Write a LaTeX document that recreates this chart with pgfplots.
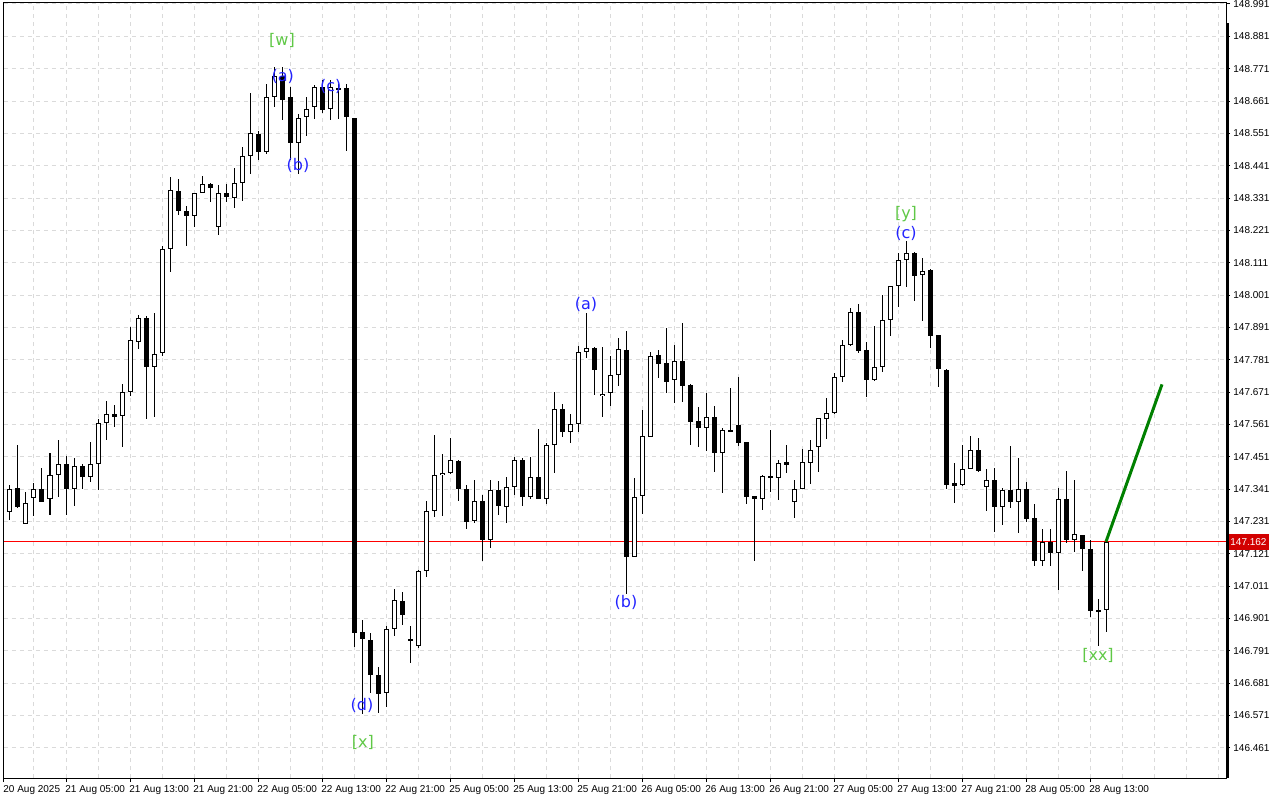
\documentclass[border=0pt]{standalone}
\usepackage{pgfplots}
\usepackage{pgfplotstable}
\pgfplotsset{compat=1.18}
\usepackage{fontspec}
\setmainfont{Liberation Sans}
\newfontfamily\wavefont{DejaVu Sans}
\newcommand\tickfont{\fontsize{5}{6}\selectfont}
\newcommand\wlab{\wavefont\fontsize{8}{9}\selectfont}
\definecolor{wgreen}{RGB}{95,200,70}
\definecolor{wblue}{RGB}{35,35,255}
\definecolor{pricered}{RGB}{210,0,0}
\definecolor{projgreen}{RGB}{0,128,0}
\definecolor{gridgray}{RGB}{218,218,218}

\pgfplotstableread{
k o h l c
0 147.014 147.385 147.004 147.379
1 147.266 147.355 147.236 147.341
2 147.344 147.491 147.277 147.280
3 147.222 147.331 147.222 147.294
4 147.310 147.361 147.249 147.341
5 147.344 147.413 147.297 147.300
6 147.307 147.464 147.253 147.389
7 147.389 147.508 147.314 147.426
8 147.426 147.453 147.253 147.341
9 147.341 147.447 147.283 147.419
10 147.419 147.426 147.341 147.382
11 147.385 147.501 147.365 147.426
12 147.426 147.579 147.338 147.566
13 147.566 147.640 147.508 147.596
14 147.596 147.627 147.552 147.586
15 147.589 147.698 147.484 147.671
16 147.671 147.892 147.657 147.848
17 147.841 147.933 147.817 147.926
18 147.923 147.930 147.579 147.756
19 147.756 147.940 147.586 147.800
20 147.804 148.168 147.794 148.158
21 148.158 148.403 148.079 148.358
22 148.355 148.396 148.273 148.287
23 148.287 148.304 148.168 148.270
24 148.270 148.348 148.232 148.348
25 148.348 148.406 148.348 148.379
26 148.379 148.382 148.317 148.365
27 148.232 148.375 148.205 148.348
28 148.348 148.379 148.317 148.334
29 148.334 148.433 148.297 148.385
30 148.385 148.505 148.324 148.474
31 148.474 148.688 148.413 148.552
32 148.549 148.559 148.460 148.488
33 148.488 148.719 148.481 148.675
34 148.675 148.777 148.641 148.746
35 148.746 148.777 148.596 148.664
36 148.675 148.709 148.460 148.518
37 148.518 148.617 148.413 148.603
38 148.607 148.675 148.542 148.637
39 148.641 148.715 148.600 148.709
40 148.709 148.732 148.620 148.630
41 148.634 148.732 148.596 148.709
42 148.705 148.719 148.600 148.702
43 148.705 148.719 148.494 148.607
44 148.603 148.603 146.804 146.851
45 146.855 146.896 146.576 146.831
46 146.827 146.851 146.647 146.708
47 146.708 146.736 146.579 146.644
48 146.647 146.875 146.600 146.865
49 146.865 147.001 146.841 146.964
50 146.960 146.991 146.879 146.913
51 146.831 146.875 146.749 146.824
52 146.807 147.066 146.800 147.062
53 147.062 147.300 147.042 147.266
54 147.266 147.525 147.246 147.389
55 147.389 147.460 147.249 147.396
56 147.396 147.515 147.392 147.440
57 147.436 147.440 147.300 147.341
58 147.341 147.355 147.205 147.232
59 147.232 147.375 147.229 147.300
60 147.300 147.321 147.096 147.168
61 147.168 147.372 147.140 147.338
62 147.338 147.368 147.253 147.283
63 147.283 147.382 147.226 147.348
64 147.348 147.450 147.321 147.440
65 147.440 147.447 147.283 147.317
66 147.317 147.450 147.307 147.382
67 147.382 147.545 147.307 147.307
68 147.307 147.498 147.290 147.491
69 147.491 147.671 147.396 147.613
70 147.613 147.630 147.518 147.535
71 147.535 147.596 147.498 147.562
72 147.562 147.828 147.535 147.807
73 147.807 147.940 147.787 147.821
74 147.821 147.824 147.661 147.746
75 147.657 147.824 147.589 147.664
76 147.668 147.794 147.623 147.729
77 147.729 147.855 147.691 147.817
78 147.814 147.879 146.984 147.110
79 147.110 147.379 147.110 147.317
80 147.317 147.610 147.256 147.521
81 147.521 147.807 147.518 147.794
82 147.797 147.814 147.719 147.766
83 147.770 147.889 147.668 147.705
84 147.712 147.831 147.634 147.777
85 147.777 147.906 147.637 147.691
86 147.695 147.698 147.491 147.569
87 147.572 147.620 147.487 147.549
88 147.549 147.668 147.470 147.586
89 147.586 147.623 147.399 147.464
90 147.464 147.549 147.327 147.542
91 147.542 147.685 147.535 147.538
92 147.559 147.722 147.487 147.498
93 147.501 147.501 147.290 147.314
94 147.317 147.317 147.096 147.307
95 147.307 147.389 147.270 147.385
96 147.385 147.545 147.334 147.379
97 147.379 147.440 147.304 147.430
98 147.433 147.491 147.396 147.423
99 147.300 147.372 147.243 147.341
100 147.341 147.477 147.341 147.433
101 147.430 147.508 147.358 147.474
102 147.484 147.583 147.399 147.583
103 147.579 147.651 147.511 147.600
104 147.600 147.736 147.596 147.722
105 147.722 147.851 147.708 147.831
106 147.831 147.957 147.828 147.943
107 147.943 147.970 147.804 147.810
108 147.817 147.841 147.654 147.712
109 147.712 147.896 147.708 147.756
110 147.756 148.001 147.739 147.916
111 147.916 148.032 147.862 148.032
112 148.032 148.144 147.960 148.120
113 148.120 148.185 148.028 148.144
114 148.144 148.147 147.981 148.066
115 148.069 148.127 147.913 148.083
116 148.086 148.090 147.821 147.862
117 147.865 147.865 147.688 147.749
118 147.746 147.749 147.341 147.355
119 147.361 147.430 147.294 147.351
120 147.355 147.491 147.351 147.409
121 147.409 147.521 147.409 147.474
122 147.474 147.515 147.399 147.402
123 147.348 147.409 147.266 147.372
124 147.372 147.413 147.195 147.280
125 147.280 147.344 147.219 147.338
126 147.338 147.487 147.277 147.297
127 147.297 147.447 147.191 147.344
128 147.341 147.365 147.229 147.239
129 147.243 147.290 147.079 147.096
130 147.096 147.205 147.079 147.161
131 147.161 147.205 147.079 147.123
132 147.123 147.344 146.998 147.307
133 147.307 147.402 147.157 147.168
134 147.168 147.372 147.127 147.188
135 147.185 147.185 147.062 147.137
136 147.137 147.168 146.906 146.926
137 146.930 146.967 146.807 146.926
138 146.930 147.166 146.855 147.162
}\candles

\pgfplotstableread{
k p
0.25 147.162
153 147.162
}\priceline

\begin{document}
\begin{tikzpicture}
\useasboundingbox (-2pt,-11pt) rectangle (638pt,389pt);
\begin{axis}[
  at={(0pt,0pt)}, anchor=south west,
  scale only axis, width=611pt, height=387.5pt,
  xmin=0.25, xmax=153, ymin=146.358, ymax=148.9944,
  clip mode=individual,
  axis line style={black, line width=0.5pt},
  tick align=outside,
  major tick length=2pt,
  minor tick length=0pt,
  tick style={black, line width=0.5pt},
  xtick pos=left, ytick pos=right, yticklabel pos=right,
  xtick={8,16,...,136},
  xticklabels={21 Aug 05:00,21 Aug 13:00,21 Aug 21:00,22 Aug 05:00,22 Aug 13:00,22 Aug 21:00,25 Aug 05:00,25 Aug 13:00,25 Aug 21:00,26 Aug 05:00,26 Aug 13:00,26 Aug 21:00,27 Aug 05:00,27 Aug 13:00,27 Aug 21:00,28 Aug 05:00,28 Aug 13:00},
  minor xtick={4,12,...,148,144,152},
  extra x ticks={0.25},
  extra x tick labels={20 Aug 2025},
  extra x tick style={grid=none},
  ytick={146.461,146.571,146.681,146.791,146.901,147.011,147.121,147.231,147.341,147.451,147.561,147.671,147.781,147.891,148.001,148.111,148.221,148.331,148.441,148.551,148.661,148.771,148.881,148.991},
  yticklabels={146.461,146.571,146.681,146.791,146.901,147.011,147.121,147.231,147.341,147.451,147.561,147.671,147.781,147.891,148.001,148.111,148.221,148.331,148.441,148.551,148.661,148.771,148.881,148.991},
  grid=both,
  major grid style={draw=gridgray, line width=0.5pt, dash pattern=on 2pt off 2pt},
  minor grid style={draw=gridgray, line width=0.5pt, dash pattern=on 2pt off 2pt},
  xticklabel style={font=\tickfont, anchor=north west, inner sep=0pt, xshift=-0.5pt, yshift=-1.5pt},
  yticklabel style={font=\tickfont, anchor=west, inner sep=0pt, xshift=1.5pt},
]
% current price line (drawn first, candles sit on top like in the terminal)
\addplot[red, solid, line width=0.75pt, forget plot] table[x=k, y=p] {\priceline};
% wicks
\addplot[draw=none, mark=none, forget plot,
  error bars/.cd, y dir=both, y explicit, error mark=none,
  error bar style={draw=black, line width=0.5pt, solid}]
  table[x=k, y expr={(\thisrow{h}+\thisrow{l})/2}, y error expr={(\thisrow{h}-\thisrow{l})/2}] {\candles};
% bodies (outline / black fill)
\addplot[draw=none, mark=none, forget plot,
  error bars/.cd, y dir=both, y explicit, error mark=none,
  error bar style={draw=black, line width=2.5pt, solid}]
  table[x=k, y expr={(\thisrow{o}+\thisrow{c})/2}, y error expr={max(abs(\thisrow{o}-\thisrow{c})/2,0.0018)}] {\candles};
% white interiors of rising candles
\addplot[draw=none, mark=none, forget plot,
  error bars/.cd, y dir=both, y explicit, error mark=none,
  error bar style={draw=white, line width=1.5pt, solid}]
  table[x=k, y expr={(\thisrow{o}+\thisrow{c})/2}, y error expr={\thisrow{c}>\thisrow{o} ? max((\thisrow{c}-\thisrow{o})/2-0.0034,0) : 0}] {\candles};
% projection
\addplot[draw=projgreen, line width=1.5pt, forget plot] coordinates {(138,147.162) (145,147.697)};

\node[text=wgreen, font=\wlab] at (axis cs:35,148.8685) {[w]};
\node[text=wblue, font=\wlab] at (axis cs:35.1,148.743) {(a)};
\node[text=wblue, font=\wlab] at (axis cs:37,148.443) {(b)};
\node[text=wblue, font=\wlab] at (axis cs:41.1,148.709) {(c)};
\node[text=wblue, font=\wlab] at (axis cs:45,146.606) {(d)};
\node[text=wgreen, font=\wlab] at (axis cs:45.1,146.4804) {[x]};
\node[text=wblue, font=\wlab] at (axis cs:73,147.970) {(a)};
\node[text=wblue, font=\wlab] at (axis cs:78,146.9567) {(b)};
\node[text=wgreen, font=\wlab] at (axis cs:113,148.2766) {[y]};
\node[text=wblue, font=\wlab] at (axis cs:113,148.2119) {(c)};
\node[text=wgreen, font=\wlab] at (axis cs:137,146.7764) {[xx]};

\node[fill=pricered, text=white, font=\tickfont, inner xsep=1pt, inner ysep=0pt, minimum height=8pt, anchor=west, xshift=1pt] at (axis cs:153,147.162) {147.162};
\draw[line width=1.5pt] ([xshift=0.5pt]rel axis cs:1,0) -- ([xshift=0.5pt]rel axis cs:1,0.974);
\end{axis}
\end{tikzpicture}
\end{document}
